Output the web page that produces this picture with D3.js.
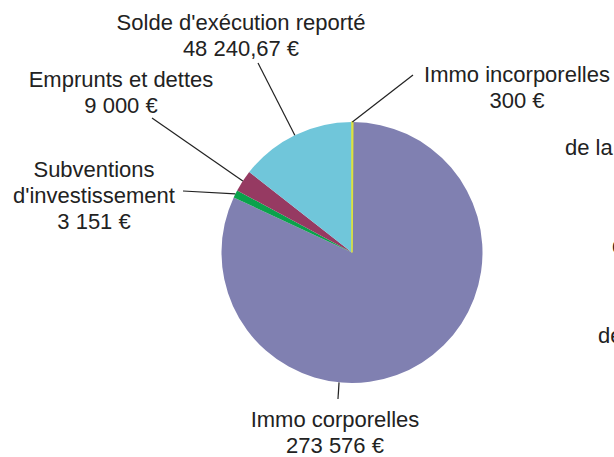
<!DOCTYPE html>
<html>
<head>
<meta charset="utf-8">
<script src="https://cdn.jsdelivr.net/npm/d3@7"></script>
<style>
  body { margin: 0; background: #fff; overflow: hidden; }
  text { font-family: "Liberation Sans", Arial, sans-serif; font-size: 22px; fill: #222; }
</style>
</head>
<body>
<svg id="pie-chart"></svg>
<script>
// data (clockwise from 12 o'clock)
const categories = ["Immo incorporelles", "Immo corporelles", "Subventions d'investissement", "Emprunts et dettes", "Solde d'exécution reporté"];
const values = [300, 273576, 3151, 9000, 48240.67];
const valueLabels = ["300 €", "273 576 €", "3 151 €", "9 000 €", "48 240,67 €"];
// label text split on lines
const labelLines = [
  ["Immo incorporelles"],
  ["Immo corporelles"],
  ["Subventions", "d'investissement"],
  ["Emprunts et dettes"],
  ["Solde d'exécution reporté"]
];
const colors = ["#dde23e", "#8080b1", "#0aa24b", "#963a62", "#70c6da"];

// text cut off on the right edge of the picture
const cutTexts = ["de la", "de", "de"];

const width = 614;
const height = 457;
const cx = 352, cy = 252.5, radius = 130.5;
const lineHeight = 26;

// where each label sits and where its leader line ends
const labelLayout = [
  {x: 517, y: 82, lineEnd: [413, 75]},
  {x: 335, y: 427, lineEnd: [338, 399], angle: 185.7},
  {x: 94, y: 177, lineEnd: [183, 191]},
  {x: 121, y: 87, lineEnd: [152, 118]},
  {x: 241, y: 30, lineEnd: [258, 63]}
];
const cutLayout = [
  {x: 565, y: 155},
  {x: 612, y: 253},
  {x: 598, y: 343}
];

const svg = d3.select("#pie-chart")
  .attr("width", width)
  .attr("height", height);

const pie = d3.pie().sort(null).value(function(d) { return d; });
const arcs = pie(values);

const arc = d3.arc().innerRadius(0).outerRadius(radius);

const g = svg.append("g")
  .attr("transform", "translate(" + cx + "," + cy + ")");

g.selectAll("path")
  .data(arcs)
  .enter()
  .append("path")
  .attr("d", arc)
  .style("fill", function(d, i) { return colors[i]; })
  // the tiny slice is drawn a bit wider so it shows, like in the original
  .style("stroke", function(d, i) { return i === 0 ? colors[i] : "none"; })
  .style("stroke-width", 1.6);

// put the tiny slice on top
g.selectAll("path").filter(function(d) { return d.index === 0; }).raise();

// leader lines
svg.selectAll("line.leader")
  .data(arcs)
  .enter()
  .append("line")
  .attr("class", "leader")
  .attr("x1", function(d, i) {
    const a = labelLayout[i].angle !== undefined ? labelLayout[i].angle * Math.PI / 180 : (d.startAngle + d.endAngle) / 2;
    return cx + radius * Math.sin(a);
  })
  .attr("y1", function(d, i) {
    const a = labelLayout[i].angle !== undefined ? labelLayout[i].angle * Math.PI / 180 : (d.startAngle + d.endAngle) / 2;
    return cy - radius * Math.cos(a);
  })
  .attr("x2", function(d, i) { return labelLayout[i].lineEnd[0]; })
  .attr("y2", function(d, i) { return labelLayout[i].lineEnd[1]; })
  .style("stroke", "#222")
  .style("stroke-width", 1.2);

// labels
const labels = svg.selectAll("text.label")
  .data(categories)
  .enter()
  .append("text")
  .attr("class", "label")
  .attr("text-anchor", "middle")
  .attr("x", function(d, i) { return labelLayout[i].x; })
  .attr("y", function(d, i) { return labelLayout[i].y; });

labels.each(function(d, i) {
  const t = d3.select(this);
  const lines = labelLines[i].concat([valueLabels[i]]);
  lines.forEach(function(line, k) {
    t.append("tspan")
      .attr("x", labelLayout[i].x)
      .attr("dy", k === 0 ? 0 : lineHeight)
      .text(line);
  });
});

svg.selectAll("text.cut")
  .data(cutTexts)
  .enter()
  .append("text")
  .attr("class", "cut")
  .attr("x", function(d, i) { return cutLayout[i].x; })
  .attr("y", function(d, i) { return cutLayout[i].y; })
  .text(function(d) { return d; });
</script>
</body>
</html>
